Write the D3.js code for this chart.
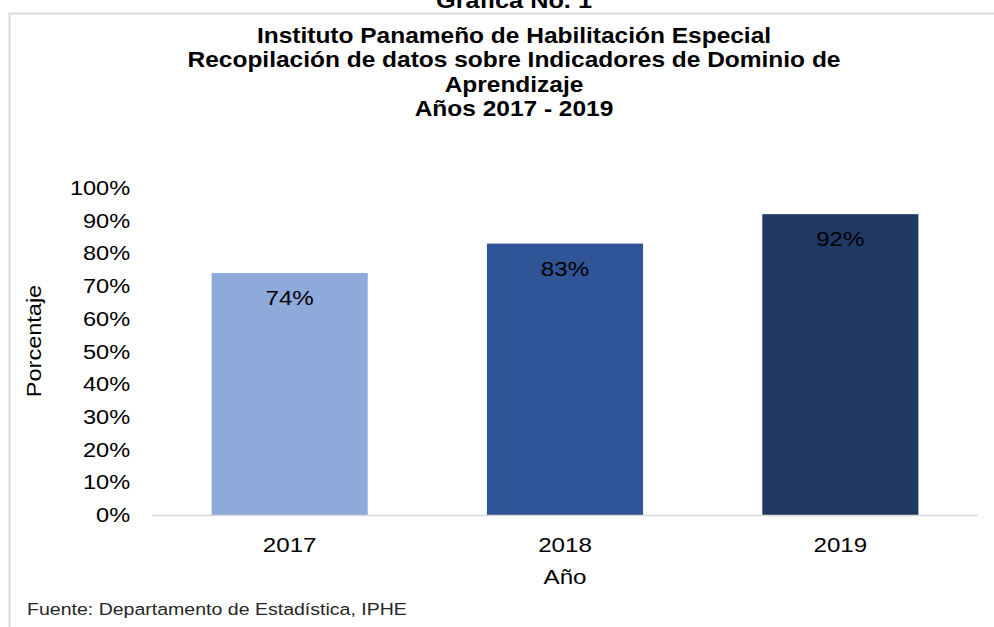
<!DOCTYPE html>
<html>
<head>
<meta charset="utf-8">
<script src="https://cdn.jsdelivr.net/npm/d3@7"></script>
<style>
  body { margin: 0; background: #fff; }
  text { font-family: "Liberation Sans", Arial, sans-serif; }
</style>
</head>
<body>
<div id="chart"></div>
<script>
var years = ['2017', '2018', '2019'];
var values = [0.74, 0.83, 0.92];
var barColors = ['#8eaadb', '#2f5597', '#203864'];
var yTicks = [0, 0.1, 0.2, 0.3, 0.4, 0.5, 0.6, 0.7, 0.8, 0.9, 1];
var titleLines = [
  'Instituto Panameño de Habilitación Especial',
  'Recopilación de datos sobre Indicadores de Dominio de',
  'Aprendizaje',
  'Años 2017 - 2019'
];

var width = 994, height = 627;
var margin = {left: 152, right: 16, top: 188, bottom: 112};
var sx = 1.15; // the source picture is a bit wider than tall

var svg = d3.select('#chart').append('svg')
  .attr('width', width)
  .attr('height', height);

// put a text at (px, py), widened by sx
function place(sel, px, py){
  return sel.attr('transform', 'translate(' + px + ',' + py + ') scale(' + sx + ',1)');
}

// chart frame
svg.append('rect')
  .attr('x', 9.5).attr('y', 13.5)
  .attr('width', 1000).attr('height', 700)
  .attr('fill', 'none')
  .attr('stroke', '#d9d9d9')
  .attr('stroke-width', 2);

// heading outside the frame, cut by the top edge
place(svg.append('text'), 514, 8)
  .attr('text-anchor', 'middle')
  .attr('font-weight', 'bold')
  .attr('font-size', 22)
  .text('Gráfica No. 1');

svg.append('g').selectAll('text')
  .data(titleLines)
  .enter().append('text')
  .attr('transform', function(d, i){
    return 'translate(514,' + (43 + i * 24.3) + ') scale(' + sx + ',1)';
  })
  .attr('text-anchor', 'middle')
  .attr('font-weight', 'bold')
  .attr('font-size', 21.3)
  .text(function(d){ return d; });

var x = d3.scaleBand()
  .domain(years)
  .range([margin.left, width - margin.right])
  .paddingInner(0.433)
  .paddingOuter(0.2165);

var y = d3.scaleLinear()
  .domain([0, 1])
  .range([height - margin.bottom, margin.top]);

// y axis labels (no line)
var yAxis = svg.append('g')
  .attr('transform', 'translate(' + margin.left + ',0)')
  .call(d3.axisLeft(y).tickValues(yTicks).tickFormat(d3.format('.0%')).tickSize(0).tickPadding(19));
yAxis.select('.domain').remove();
yAxis.selectAll('text')
  .attr('font-size', 20.5)
  .attr('font-family', '"Liberation Sans", Arial, sans-serif')
  .attr('fill', '#000')
  .attr('transform', 'scale(' + sx + ',1)');

// bars
svg.append('g').selectAll('rect')
  .data(values)
  .enter().append('rect')
  .attr('x', function(d, i){ return x(years[i]); })
  .attr('y', function(d){ return y(d); })
  .attr('width', x.bandwidth())
  .attr('height', function(d){ return y(0) - y(d); })
  .attr('fill', function(d, i){ return barColors[i]; });

// baseline
svg.append('line')
  .attr('x1', margin.left).attr('x2', width - margin.right)
  .attr('y1', y(0) + 0.5).attr('y2', y(0) + 0.5)
  .attr('stroke', '#d9d9d9')
  .attr('stroke-width', 1.5);

// value labels
svg.append('g').selectAll('text')
  .data(values)
  .enter().append('text')
  .attr('transform', function(d, i){
    return 'translate(' + (x(years[i]) + x.bandwidth() / 2) + ',' + (y(d) + 32) + ') scale(' + sx + ',1)';
  })
  .attr('text-anchor', 'middle')
  .attr('font-size', 21)
  .attr('fill', '#000')
  .text(function(d){ return Math.round(d * 100) + '%'; });

// x axis labels
var xAxis = svg.append('g')
  .attr('transform', 'translate(0,' + y(0) + ')')
  .call(d3.axisBottom(x).tickSize(0).tickPadding(22));
xAxis.select('.domain').remove();
xAxis.selectAll('text')
  .attr('font-size', 21)
  .attr('font-family', '"Liberation Sans", Arial, sans-serif')
  .attr('fill', '#000')
  .attr('transform', 'scale(' + sx + ',1)');

// axis titles
place(svg.append('text'), 565, 584)
  .attr('text-anchor', 'middle')
  .attr('font-size', 21)
  .text('Año');

svg.append('text')
  .attr('transform', 'translate(41,341) rotate(-90) scale(1.12,1)')
  .attr('text-anchor', 'middle')
  .attr('font-size', 21)
  .text('Porcentaje');

place(svg.append('text'), 27, 615)
  .attr('font-size', 17)
  .attr('fill', '#262626')
  .text('Fuente: Departamento de Estadística, IPHE');
</script>
</body>
</html>
